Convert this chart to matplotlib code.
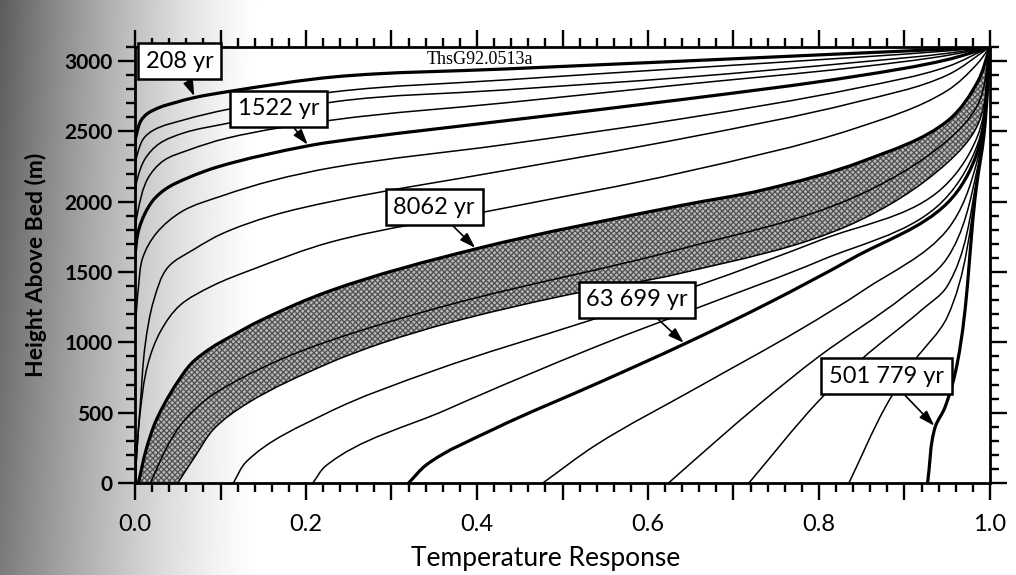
import numpy as np
import matplotlib
matplotlib.use("Agg")
import matplotlib.pyplot as plt
from matplotlib.path import Path
from matplotlib.patches import PathPatch
from matplotlib.ticker import MultipleLocator

plt.rcParams['font.family'] = ['Lato', 'DejaVu Sans']
plt.rcParams['hatch.linewidth'] = 0.9

# Temperature response profiles (response 0..1 vs height above bed in m)
TOP = 3100

a_u = [0, 0, 0.002, 0.007, 0.014, 0.029, 0.046, 0.070, 0.109, 0.234, 0.434, 0.645, 0.844, 0.95, 1.0]
a_h = [0, 2420, 2485, 2577, 2624, 2671, 2703, 2741, 2783, 2888, 2944, 3001, 3056, 3085, 3100]
b_u = [0, 0, 0.003, 0.010, 0.022, 0.058, 0.108, 0.234, 0.433, 0.644, 0.844, 0.95, 1.0]
b_h = [0, 2250, 2343, 2449, 2510, 2583, 2656, 2782, 2866, 2949, 3027, 3072, 3100]
c_u = [0, 0, 0.003, 0.012, 0.028, 0.057, 0.108, 0.234, 0.433, 0.644, 0.844, 0.95, 1.0]
c_h = [0, 2050, 2168, 2307, 2411, 2489, 2557, 2711, 2795, 2885, 2991, 3055, 3100]
d_u = [0, 0, 0.003, 0.015, 0.033, 0.063, 0.107, 0.234, 0.433, 0.644, 0.844, 0.95, 1.0]
d_h = [0, 1780, 1921, 2165, 2290, 2368, 2451, 2583, 2703, 2835, 2956, 3040, 3100]
e_u = [0, 0, 0.005, 0.020, 0.036, 0.062, 0.097, 0.203, 0.234, 0.432, 0.643, 0.843, 0.95, 1.0]
e_h = [0, 1600, 1814, 2001, 2091, 2170, 2248, 2398, 2428, 2575, 2729, 2892, 3010, 3100]
f_u = [0, 0, 0.001, 0.004, 0.009, 0.025, 0.055, 0.102, 0.161, 0.232, 0.431, 0.643, 0.843, 0.95, 1.0]
f_h = [0, 850, 1150, 1390, 1601, 1776, 1931, 2042, 2151, 2244, 2405, 2593, 2806, 2960, 3100]
g_u = [0, 0.002, 0.006, 0.012, 0.022, 0.038, 0.070, 0.101, 0.160, 0.231, 0.431, 0.642, 0.842, 0.95, 1.0]
g_h = [0, 212, 540, 986, 1300, 1530, 1665, 1770, 1900, 2003, 2220, 2451, 2706, 2900, 3100]
h_u = [0.0, 0.002, 0.0055, 0.015, 0.030, 0.052, 0.090, 0.138, 0.229, 0.429, 0.641, 0.842, 0.95, 0.985, 1.0]
h_h = [0, 200, 472, 844, 1080, 1260, 1400, 1520, 1713, 1951, 2209, 2521, 2790, 2980, 3100]
i_u = [0.004, 0.013, 0.023, 0.034, 0.050, 0.066, 0.089, 0.113, 0.145, 0.228, 0.399, 0.640, 0.734, 0.852, 0.951, 0.986, 1.0]
i_h = [0, 237, 420, 558, 720, 850, 960, 1045, 1150, 1366, 1665, 1975, 2083, 2290, 2578, 2858, 3100]
j_u = [0.018, 0.039, 0.057, 0.084, 0.120, 0.171, 0.227, 0.368, 0.639, 0.840, 0.950, 0.986, 1.0]
j_h = [0, 274, 440, 597, 731, 880, 1010, 1268, 1665, 2029, 2435, 2694, 3100]
k_u = [0.050, 0.071, 0.092, 0.131, 0.226, 0.289, 0.368, 0.500, 0.638, 0.839, 0.949, 0.986, 1.0]
k_h = [0, 196, 383, 565, 850, 995, 1140, 1330, 1491, 1843, 2271, 2551, 3100]
l_u = [0.115, 0.130, 0.224, 0.350, 0.529, 0.661, 0.803, 0.937, 0.985, 1.0]
l_h = [0, 150, 496, 800, 1150, 1410, 1730, 2060, 2460, 3100]
m_u = [0.208, 0.223, 0.365, 0.542, 0.660, 0.803, 0.937, 0.985, 1.0]
m_h = [0, 121, 523, 976, 1250, 1585, 1960, 2400, 3100]
n_u = [0.320, 0.341, 0.420, 0.545, 0.643, 0.741, 0.840, 0.950, 0.985, 1.0]
n_h = [0, 130, 384, 720, 990, 1280, 1600, 1990, 2350, 3100]
o_u = [0.477, 0.539, 0.658, 0.778, 0.852, 0.950, 0.985, 1.0]
o_h = [0, 270, 680, 1091, 1370, 1800, 2290, 3100]
p_u = [0.624, 0.680, 0.730, 0.800, 0.900, 0.950, 0.985, 1.0]
p_h = [0, 300, 560, 900, 1330, 1600, 2230, 3100]
q_u = [0.718, 0.798, 0.849, 0.920, 0.950, 0.985, 1.0]
q_h = [0, 573, 876, 1230, 1400, 2180, 3100]
r_u = [0.835, 0.878, 0.911, 0.950, 0.985, 1.0]
r_h = [0, 544, 864, 1180, 2140, 3100]
z_u = [0.927, 0.936, 0.947, 0.962, 0.984, 0.993, 1.0]
z_h = [0, 400, 533, 860, 2100, 2478, 3100]

thin_curves = [(b_u, b_h), (c_u, c_h), (d_u, d_h), (f_u, f_h), (g_u, g_h),
               (h_u, h_h), (j_u, j_h), (k_u, k_h), (l_u, l_h), (m_u, m_h),
               (o_u, o_h), (p_u, p_h), (q_u, q_h), (r_u, r_h)]
thick_curves = [(a_u, a_h), (e_u, e_h), (i_u, i_h), (n_u, n_h), (z_u, z_h)]

# labelled times: text, box centre (response, height), arrow target on curve
labels = ["208 yr", "1522 yr", "8062 yr", "63 699 yr", "501 779 yr"]
label_pos = [(0.052, 3000), (0.168, 2660), (0.350, 1960), (0.587, 1303), (0.879, 760)]
label_tip = [(a_u[7], a_h[7]), (e_u[7], e_h[7]), (i_u[10], i_h[10]),
             (n_u[4], n_h[4]), (z_u[1], z_h[1])]

x_ticks = [0.0, 0.1, 0.2, 0.3, 0.4, 0.5, 0.6, 0.7, 0.8, 0.9, 1.0]
x_tick_labels = ['0.0', '', '0.2', '', '0.4', '', '0.6', '', '0.8', '', '1.0']
y_ticks = [0, 500, 1000, 1500, 2000, 2500, 3000]


def smooth_path(u, h):
    """Cubic Bezier path passing through every (u, h) point."""
    sx, sy = 855.0, 436.0 / TOP
    p = np.column_stack([np.asarray(u, float) * sx, np.asarray(h, float) * sy])
    n = len(p)
    tan = np.zeros_like(p)
    for i in range(n):
        if i == 0:
            d = p[1] - p[0]
        elif i == n - 1:
            d = p[-1] - p[-2]
        else:
            d1 = p[i] - p[i - 1]
            d2 = p[i + 1] - p[i]
            d = d1 / np.linalg.norm(d1) + d2 / np.linalg.norm(d2)
        tan[i] = d / np.linalg.norm(d)
    verts = [p[0]]
    codes = [Path.MOVETO]
    for i in range(n - 1):
        seg = np.linalg.norm(p[i + 1] - p[i])
        verts += [p[i] + tan[i] * seg / 3, p[i + 1] - tan[i + 1] * seg / 3, p[i + 1]]
        codes += [Path.CURVE4] * 3
    verts = np.array(verts)
    verts[:, 0] /= sx
    verts[:, 1] /= sy
    return verts, codes


W, H = 1016, 575
fig = plt.figure(figsize=(W / 100, H / 100), dpi=100)

# greyish shading along the left margin, a little darker towards the top
bg = fig.add_axes([0, 0, 1, 1], zorder=-5)
xs = np.arange(W)
ys = np.linspace(0, 1, H)[:, None]
fade = np.clip(1 - xs / 262.0, 0, 1) ** 1.35
depth = 0.64 - 0.12 * ys
img = 1 - depth * fade[None, :]
bg.imshow(img, cmap='gray', vmin=0, vmax=1, aspect='auto', extent=[0, 1, 0, 1])
bg.set_axis_off()

ax = fig.add_axes([135 / W, (H - 483) / H, 855 / W, 436 / H])
ax.set_facecolor('none')
ax.set_xlim(0, 1.0)
ax.set_ylim(0, TOP)

# stippled band between the 8062 yr profile and the second profile after it
vi, ci = smooth_path(i_u, i_h)
vk, ck = smooth_path(k_u, k_h)
band_v = np.vstack([vi, vk[::-1], vi[:1]])
band_c = ci + [Path.LINETO] + [Path.CURVE4] * (len(vk) - 1) + [Path.CLOSEPOLY]
ax.add_patch(PathPatch(Path(band_v, band_c), facecolor='#b8b8b8', edgecolor='#505050',
                       hatch='xxxxxx', lw=0, zorder=1))

for u, h in thin_curves:
    v, c = smooth_path(u, h)
    ax.add_patch(PathPatch(Path(v, c), facecolor='none', edgecolor='black', lw=1.1,
                           capstyle='round', zorder=3))
for u, h in thick_curves:
    v, c = smooth_path(u, h)
    ax.add_patch(PathPatch(Path(v, c), facecolor='none', edgecolor='black', lw=2.3,
                           capstyle='round', zorder=4))

for txt, pos, tip in zip(labels, label_pos, label_tip):
    ax.annotate(txt, xy=tip, xytext=pos, ha='center', va='center', fontsize=17,
                bbox=dict(boxstyle='square,pad=0.32', fc='white', ec='black', lw=1.8),
                arrowprops=dict(arrowstyle='-|>,head_length=0.55,head_width=0.18',
                                color='black', lw=1.2, shrinkA=0, shrinkB=1),
                zorder=6)

ax.text(0.404, 0.99, 'ThsG92.0513a', transform=ax.transAxes, ha='center', va='top',
        fontsize=13, family='Liberation Serif', zorder=5)

for s in ax.spines.values():
    s.set_linewidth(2.0)

ax.set_xticks(x_ticks)
ax.set_xticklabels(x_tick_labels)
ax.set_yticks(y_ticks)
ax.xaxis.set_minor_locator(MultipleLocator(0.02))
ax.yaxis.set_minor_locator(MultipleLocator(100))
ax.tick_params(which='both', direction='out', top=True, right=True, width=1.7)
ax.tick_params(which='major', length=12)
ax.tick_params(which='minor', length=6.5)
ax.tick_params(axis='x', which='major', labelsize=17, pad=10)
ax.tick_params(axis='y', which='major', labelsize=15, pad=4)
for t in ax.get_yticklabels():
    t.set_fontweight('bold')

ax.set_xlabel('Temperature Response', fontsize=19)
ax.xaxis.set_label_coords(0.48, -0.145)
ax.set_ylabel('Height Above Bed (m)', fontsize=16.5, fontweight='bold')
ax.yaxis.set_label_coords(-0.103, 0.5)

fig.savefig('out.png', dpi=100)
